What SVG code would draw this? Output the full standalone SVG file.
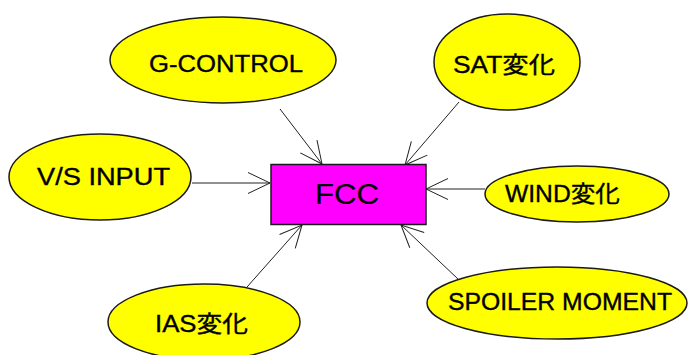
<svg xmlns="http://www.w3.org/2000/svg" width="688" height="355" viewBox="0 0 688 355">
<defs>
<style>
.ell{fill:#FFFF00;stroke:#1a1a1a;stroke-width:1.5}
.box{fill:#FF00FF;stroke:#1a1a1a;stroke-width:1.5}
.lbl{font-family:"Liberation Sans","Noto Sans CJK JP",sans-serif;font-size:23px;fill:#000;stroke:#000;stroke-width:0.35;text-anchor:middle}
.con line{stroke:#222;stroke-width:1;marker-end:url(#arr)}
</style>
<marker id="arr" viewBox="-25 -13 27 26" markerWidth="27" markerHeight="26" refX="0" refY="0" orient="auto" markerUnits="userSpaceOnUse" overflow="visible">
<path d="M-22,-10.5 L0,0 L-22,10.5" fill="none" stroke="#222" stroke-width="1"/>
</marker>
</defs>
<rect width="688" height="355" fill="#fff"/>
<g class="con" id="connectors">
<line x1="280" y1="109" x2="322" y2="164"/>
<line x1="459" y1="102" x2="405" y2="165"/>
<line x1="192" y1="183" x2="270" y2="183"/>
<line x1="485" y1="189" x2="426" y2="189"/>
<line x1="247" y1="287" x2="302" y2="225"/>
<line x1="458" y1="279" x2="401" y2="225"/>
</g>
<g id="fcc">
<rect class="box" x="271" y="164.5" width="155" height="60"/>
<text class="lbl" x="347" y="204" style="font-size:30px;stroke-width:0.2" textLength="64" lengthAdjust="spacingAndGlyphs">FCC</text>
</g>
<g id="g-control">
<ellipse class="ell" cx="223" cy="60" rx="113" ry="43"/>
<text class="lbl" x="226" y="72" textLength="154" lengthAdjust="spacingAndGlyphs">G-CONTROL</text>
</g>
<g id="sat">
<ellipse class="ell" cx="507" cy="62" rx="73" ry="48"/>
<text class="lbl" x="504" y="73" textLength="102" lengthAdjust="spacingAndGlyphs">SAT変化</text>
</g>
<g id="vs-input">
<ellipse class="ell" cx="100" cy="177" rx="91" ry="43"/>
<text class="lbl" x="103.5" y="185" textLength="133" lengthAdjust="spacingAndGlyphs">V/S INPUT</text>
</g>
<g id="wind">
<ellipse class="ell" cx="577" cy="194" rx="92" ry="28"/>
<text class="lbl" x="562.5" y="202" textLength="115" lengthAdjust="spacingAndGlyphs">WIND変化</text>
</g>
<g id="ias">
<ellipse class="ell" cx="204" cy="322" rx="96" ry="38"/>
<text class="lbl" x="201.5" y="332" textLength="93" lengthAdjust="spacingAndGlyphs">IAS変化</text>
</g>
<g id="spoiler">
<ellipse class="ell" cx="557" cy="303" rx="130" ry="36"/>
<text class="lbl" x="560" y="310" textLength="224" lengthAdjust="spacingAndGlyphs">SPOILER MOMENT</text>
</g>
</svg>
